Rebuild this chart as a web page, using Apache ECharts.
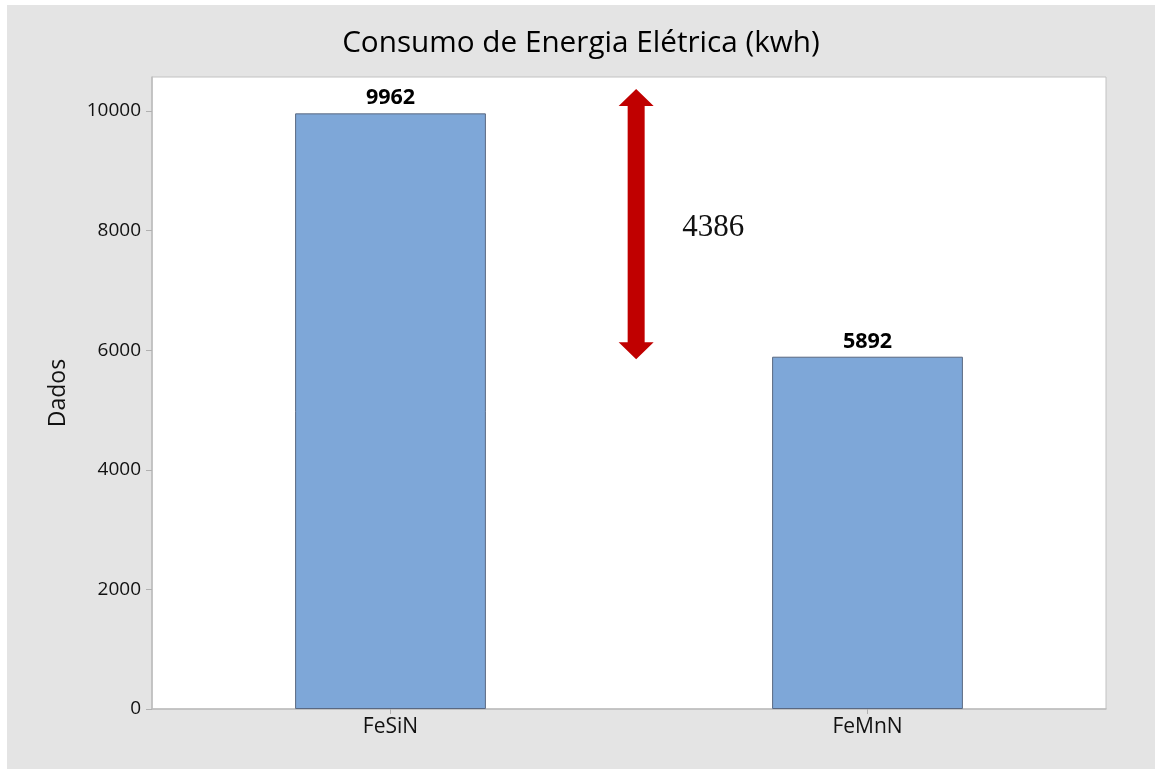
<!DOCTYPE html>
<html>
<head>
<meta charset="utf-8">
<title>Consumo de Energia Elétrica (kwh)</title>
<script src="https://cdn.jsdelivr.net/npm/echarts@6/dist/echarts.min.js"></script>
<style>
  html, body { margin: 0; padding: 0; background: #e4e4e4; width: 100%; height: 100%; overflow: hidden; }
  #chart { position: absolute; left: 7px; top: 5px; width: 1148px; height: 764px; background: #e4e4e4; }
  .edge { position: absolute; background: #ffffff; }
  #edgeTop { left: 0; top: 0; width: 100%; height: 5px; }
  #edgeLeft { left: 0; top: 0; width: 7px; height: 100%; }
</style>
</head>
<body>
<div id="edgeTop" class="edge"></div>
<div id="edgeLeft" class="edge"></div>
<div id="chart"></div>
<script>
// Categories and measured consumption
const categories = ['FeSiN', 'FeMnN'];
const consumo = [9962, 5892];

// Y axis ticks
const yTicks = [0, 2000, 4000, 6000, 8000, 10000];

// Difference annotation: arrow extent (data units) and its label
const arrowRange = [5850, 10370];
const diffLabel = '4386';

const uiFont = '"Open Sans", "Noto Sans", sans-serif';

const chart = echarts.init(document.getElementById('chart'), null, { renderer: 'canvas' });

chart.setOption({
  animation: false,
  backgroundColor: '#e4e4e4',
  title: {
    text: 'Consumo de Energia Elétrica (kwh)',
    left: 'center',
    top: 19,
    textStyle: { fontFamily: uiFont, fontSize: 29.7, fontWeight: 'normal', color: '#000' }
  },
  grid: {
    left: 145, right: 49, top: 72, bottom: 60,
    show: true, backgroundColor: '#ffffff', borderColor: '#c2c2c2', borderWidth: 1
  },
  xAxis: {
    type: 'category',
    data: categories,
    axisLine: { lineStyle: { color: '#bdbdbd', width: 1.5 } },
    axisTick: { show: true, alignWithLabel: true, length: 5, lineStyle: { color: '#b0b0b0' } },
    axisLabel: { fontFamily: uiFont, fontSize: 21, color: '#111', margin: 8 }
  },
  yAxis: {
    type: 'value',
    min: yTicks[0],
    max: 10570,
    interval: yTicks[1] - yTicks[0],
    name: 'Dados',
    nameLocation: 'middle',
    nameGap: 82,
    nameTextStyle: { fontFamily: uiFont, fontSize: 23, color: '#111' },
    axisLine: { show: true, lineStyle: { color: '#bdbdbd', width: 1.5 } },
    axisTick: { show: true, length: 6, customValues: yTicks, lineStyle: { color: '#b0b0b0' } },
    axisLabel: {
      fontFamily: uiFont, fontSize: 19, color: '#111', margin: 11,
      customValues: yTicks,
      formatter: v => String(v)
    },
    splitLine: { show: false }
  },
  series: [
    {
      type: 'bar',
      data: consumo,
      barWidth: '40%',
      itemStyle: { color: '#7ea7d8', borderColor: '#5a6880', borderWidth: 1 },
      label: {
        show: true, position: 'top', distance: 4,
        fontFamily: uiFont, fontSize: 21.5, fontWeight: 'bold', color: '#000'
      }
    },
    {
      type: 'custom',
      data: [[0, arrowRange[0], arrowRange[1]]],
      encode: { x: 0, y: [1, 2] },
      z: 5,
      renderItem: function (params, api) {
        const lo = api.value(1), hi = api.value(2);
        const pA = api.coord([0, hi]);
        const pB = api.coord([1, hi]);
        const x = pA[0] + (pB[0] - pA[0]) * 0.515;
        const yTop = pA[1];
        const yBot = api.coord([0, lo])[1];
        const hw = 17.5, sw = 8.5, hl = 17;
        const pts = [
          [x, yTop], [x + hw, yTop + hl], [x + sw, yTop + hl],
          [x + sw, yBot - hl], [x + hw, yBot - hl], [x, yBot],
          [x - hw, yBot - hl], [x - sw, yBot - hl], [x - sw, yTop + hl],
          [x - hw, yTop + hl]
        ];
        return {
          type: 'group',
          children: [
            { type: 'polygon', shape: { points: pts }, style: { fill: '#c00000' } },
            {
              type: 'text',
              style: {
                text: diffLabel, x: x + 46, y: (yTop + yBot) / 2 + 4,
                fontFamily: '"Liberation Serif", "DejaVu Serif", serif',
                fontSize: 31, fill: '#111', verticalAlign: 'middle', align: 'left'
              }
            }
          ]
        };
      }
    }
  ]
});
</script>
</body>
</html>
